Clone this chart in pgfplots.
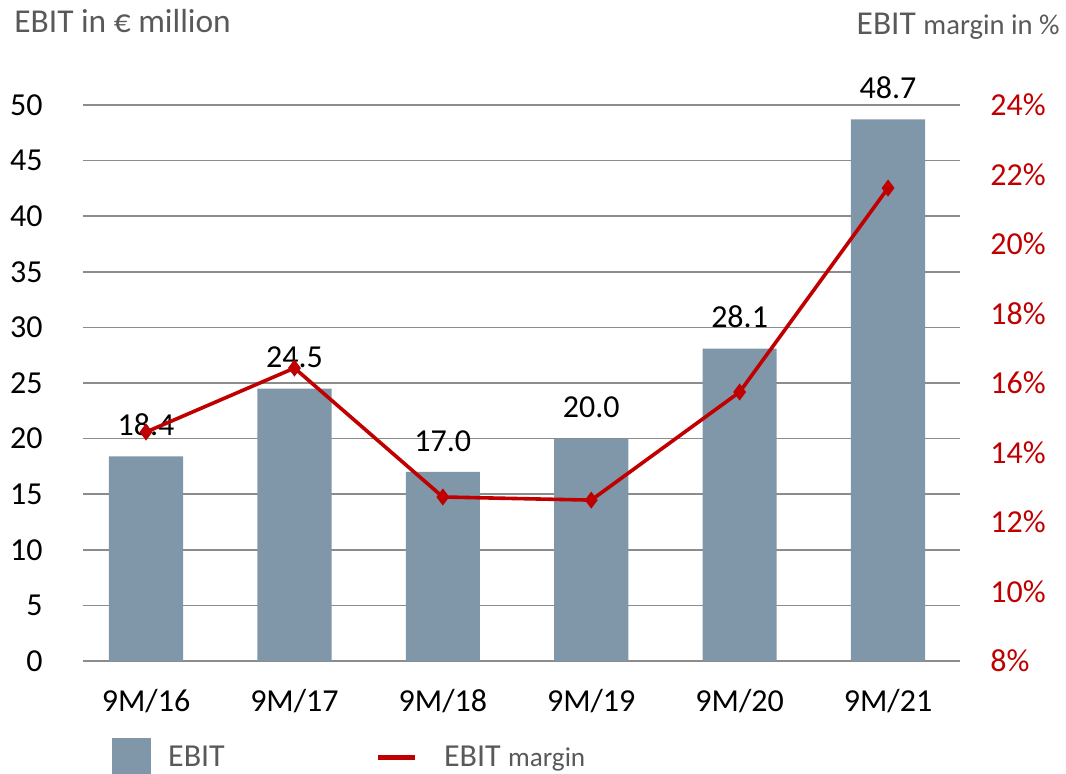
\documentclass[border=0pt]{standalone}
\usepackage{pgfplots}
\pgfplotsset{compat=1.18}
\usepackage{fontspec}
\setmainfont{Carlito}
\definecolor{barcol}{HTML}{7F97A9}
\definecolor{linecol}{HTML}{C00000}
\definecolor{titlegray}{HTML}{595959}
\definecolor{gridgray}{HTML}{8C8C8C}
\begin{document}
\begin{tikzpicture}
\useasboundingbox (0,0) rectangle (533pt,386.5pt);
\begin{axis}[
  at={(41.5pt,56pt)}, anchor=south west,
  scale only axis, width=438.5pt, height=278pt,
  xmin=-0.425, xmax=5.485, ymin=0, ymax=50,
  xtick={0,1,2,3,4,5},
  xticklabels={9M/16,9M/17,9M/18,9M/19,9M/20,9M/21},
  ytick={0,5,...,50},
  axis line style={draw=none},
  major tick length=0pt,
  ymajorgrids, grid style={gridgray, line width=0.75pt},
  tick label style={font=\fontsize{16}{18}\selectfont, black},
  /pgf/number format/assume math mode=true,
  yticklabel style={anchor=east, inner sep=0pt, xshift=-20pt},
  xticklabel style={anchor=north, inner sep=0pt, yshift=-14pt},
]
\addplot[ybar, bar width=0.5, fill=barcol, draw=none,
  nodes near coords={\pgfmathprintnumber[fixed,fixed zerofill,precision=1]{\pgfplotspointmeta}},
  every node near coord/.append style={anchor=south, inner sep=0pt, yshift=10pt, black, font=\fontsize{16}{18}\selectfont}]
  coordinates {(0,18.4) (1,24.5) (2,17.0) (3,20.0) (4,28.1) (5,48.7)};
\end{axis}
\begin{axis}[
  at={(41.5pt,56pt)}, anchor=south west,
  scale only axis, width=438.5pt, height=278pt,
  xmin=-0.425, xmax=5.485, ymin=8, ymax=24,
  xtick=\empty,
  ytick={8,10,...,24},
  yticklabel pos=right,
  yticklabel={\pgfmathprintnumber{\tick}\%},
  axis line style={draw=none},
  major tick length=0pt,
  tick label style={font=\fontsize{16}{18}\selectfont},
  /pgf/number format/assume math mode=true,
  yticklabel style={anchor=west, inner sep=0pt, xshift=15pt, text=linecol},
  legend columns=2,
  legend style={draw=none, fill=none, at={(0.033,-0.138)}, anchor=north west,
    inner sep=0pt, text=titlegray,
    nodes={inner sep=0pt, font=\fontsize{16}{18}\selectfont},
    /tikz/every odd column/.append style={column sep=8.5pt},
    /tikz/every even column/.append style={column sep=75.5pt}},
]
\addlegendimage{legend image code/.code={\fill[barcol] (0pt,-9.5pt) rectangle (19pt,9.5pt);}}
\addlegendentry{EBIT}
\addplot[linecol, line width=1.8pt, mark=diamond*, mark size=2.8pt,
  mark options={solid, fill=linecol},
  legend image code/.code={\draw[linecol,line width=2.5pt] (0pt,0pt) -- (18.5pt,0pt); \path (23.5pt,0pt);}]
  coordinates {(0,14.59) (1,16.43) (2,12.72) (3,12.63) (4,15.74) (5,21.61)};
\addlegendentry{EBIT {\fontsize{13.6}{15}\selectfont margin}}
\end{axis}
\node[anchor=base west, inner sep=0pt, text=titlegray, font=\fontsize{16.7}{18}\selectfont] at (7pt,370pt) {EBIT in € million};
\node[anchor=base east, inner sep=0pt, text=titlegray, font=\fontsize{16.7}{18}\selectfont] at (530pt,369pt) {EBIT {\fontsize{14.3}{16}\selectfont margin in \%}};
\end{tikzpicture}
\end{document}
